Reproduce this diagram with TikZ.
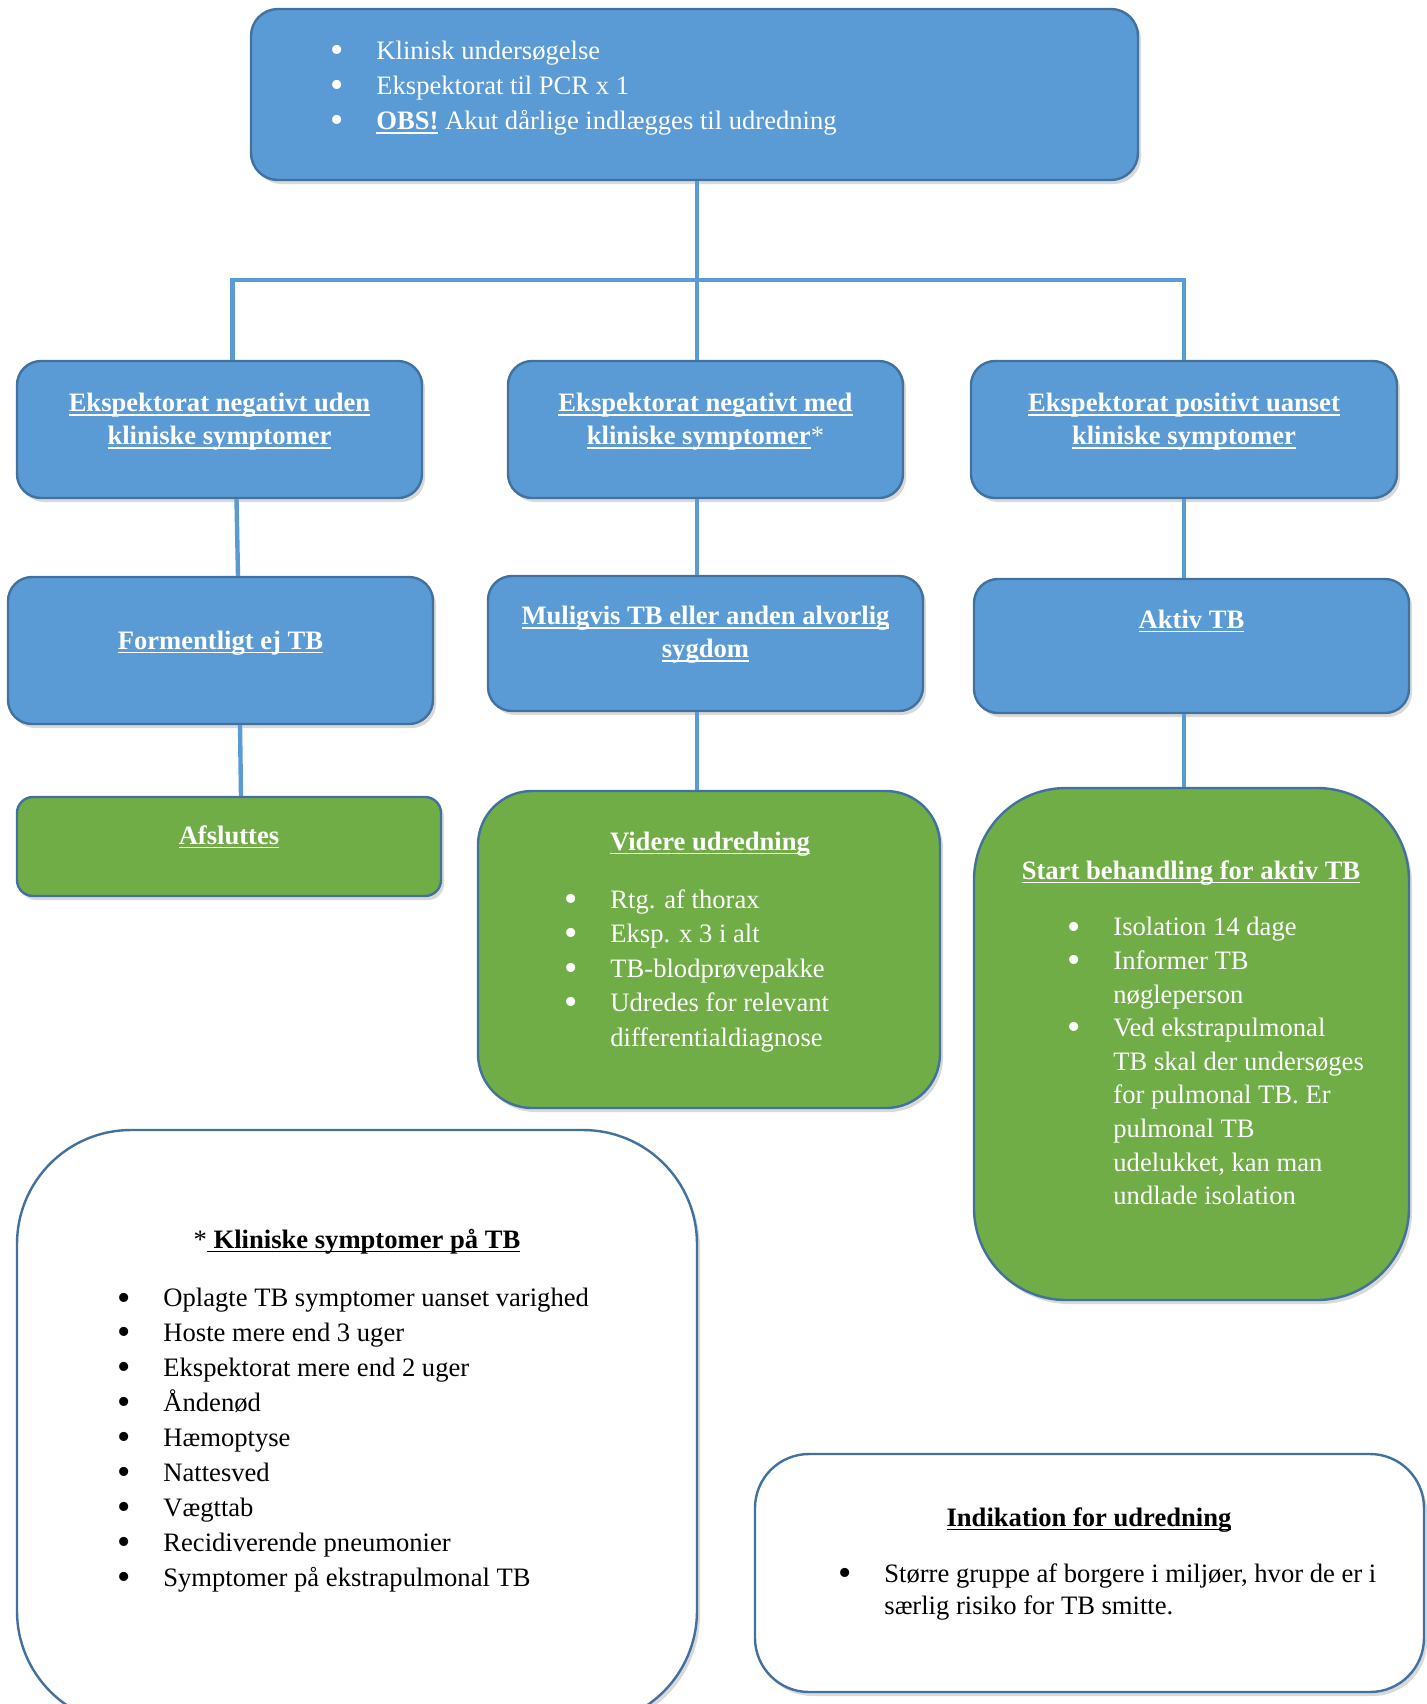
\documentclass[tikz,border=0pt]{standalone}
\usepackage{fontspec}
\setmainfont{Liberation Serif}
\usetikzlibrary{fit,shadows}
\definecolor{boxblue}{HTML}{5B9BD5}
\definecolor{edgeblue}{HTML}{41719C}
\definecolor{boxgreen}{HTML}{70AD47}
\newcommand{\uln}[1]{\leavevmode\setbox0=\hbox{#1}\rlap{\rule[-2.2pt]{\wd0}{0.9pt}}\box0\relax}
\newcommand{\bul}{\makebox[23pt][l]{\raisebox{-1.6pt}{\fontsize{19}{19}\selectfont\textbullet}}}
\newcommand{\hang}{\hspace*{23pt}}
\tikzset{
  box/.style={draw=edgeblue, line width=1.2pt, inner sep=0pt,
    drop shadow={shadow xshift=1.5pt, shadow yshift=-2pt, opacity=0.3}},
  bluebox/.style={box, fill=boxblue},
  greenbox/.style={box, fill=boxgreen},
  notebox/.style={box, fill=white},
  conn/.style={draw=boxblue, line width=2.2pt},
  txt/.style={inner sep=0pt, font=\fontsize{13.3}{17.25}\selectfont},
  head/.style={txt, align=center, text=white, font=\fontsize{13.3}{16.5}\selectfont\bfseries},
  list/.style={txt, anchor=north west, align=left},
}
\begin{document}
\begin{tikzpicture}[x=0.5pt, y=-0.5pt]
  \useasboundingbox (0,0) rectangle (1426,1704);

  \node[bluebox, rounded corners=13.5pt, fit={(251,9) (1138,180)}] (top) {};
  \node[bluebox, rounded corners=12pt, fit={(17,361) (422,498)}] (l1) {};
  \node[bluebox, rounded corners=12pt, fit={(508,361) (903,498)}] (m1) {};
  \node[bluebox, rounded corners=12pt, fit={(971,361) (1397,498)}] (r1) {};
  \node[bluebox, rounded corners=12pt, fit={(8,577) (433,724)}] (l2) {};
  \node[bluebox, rounded corners=12pt, fit={(488,576) (923,711)}] (m2) {};
  \node[bluebox, rounded corners=12pt, fit={(974,579) (1409,713)}] (r2) {};
  \node[greenbox, rounded corners=8pt, fit={(17,797) (441,896)}] (l3) {};
  \node[greenbox, rounded corners=27pt, fit={(478,791) (940,1108)}] (m3) {};
  \node[greenbox, rounded corners=46pt, fit={(974,788) (1409,1300)}] (r3) {};
  \node[notebox, rounded corners=57pt, fit={(17,1130) (697,1725)}] (sympt) {};
  \node[notebox, rounded corners=27pt, fit={(755,1454) (1424,1692)}] (indik) {};

  \coordinate (fork) at (697,280);
  \draw[conn] (fork |- top.south) -- (fork);
  \draw[conn] ([xshift=6.5pt]l1.north) |- (fork) -| (r1.north);
  \draw[conn] (fork) -- (fork |- m1.north);
  \draw[conn] ([xshift=8.5pt]l1.south) -- ([xshift=8.75pt]l2.north);
  \draw[conn] ([xshift=9.75pt]l2.south) -- ([xshift=6pt]l3.north);
  \draw[conn] (fork |- m1.south) -- (fork |- m2.north);
  \draw[conn] (fork |- m2.south) -- (fork |- m3.north);
  \draw[conn] (r1.south) -- (r1.south |- r2.north);
  \draw[conn] (r1.south |- r2.south) -- (r1.south |- r3.north);

  \node[list, text=white, font=\fontsize{13.3}{17.5}\selectfont] (toptxt) at (330,40.5)
    {\bul Klinisk undersøgelse\\ \bul Ekspektorat til PCR x 1\\
     \bul \uln{\textbf{OBS!}} Akut dårlige indlægges til udredning};
  \node[head, anchor=north] (l1txt) at (219.5,393)
    {\uln{Ekspektorat negativt uden}\\ \uln{kliniske symptomer}};
  \node[head, anchor=north] (m1txt) at (705.5,393)
    {\uln{Ekspektorat negativt med}\\ \uln{kliniske symptomer}\mdseries*};
  \node[head, anchor=north] (r1txt) at (1184,393)
    {\uln{Ekspektorat positivt uanset}\\ \uln{kliniske symptomer}};
  \node[head, anchor=base] (l2txt) at (220.5,649) {\uln{Formentligt ej TB}};
  \node[head, anchor=north] (m2txt) at (705.5,606)
    {\uln{Muligvis TB eller anden alvorlig}\\ \uln{sygdom}};
  \node[head, anchor=base] (r2txt) at (1191.5,628) {\uln{Aktiv TB}};
  \node[head, anchor=base] (l3txt) at (229,844) {\uln{Afsluttes}};

  \node[head, anchor=base] (m3head) at (710,850) {\uln{Videre udredning}};
  \node[list, text=white] (m3txt) at (564,889)
    {\bul Rtg. af thorax\\ \bul Eksp. x 3 i alt\\ \bul TB-blodprøvepakke\\
     \bul Udredes for relevant\\ \hang differentialdiagnose};

  \node[head, anchor=base] (r3head) at (1191,879) {\uln{Start behandling for aktiv TB}};
  \node[list, text=white, font=\fontsize{13.3}{16.8}\selectfont] (r3txt) at (1067,917)
    {\bul Isolation 14 dage\\ \bul Informer TB\\ \hang nøgleperson\\
     \bul Ved ekstrapulmonal\\ \hang TB skal der undersøges\\ \hang for pulmonal TB. Er\\
     \hang pulmonal TB\\ \hang udelukket, kan man\\ \hang undlade isolation};

  \node[txt, anchor=base] (symhead) at (357,1248)
    {*\uln{\textbf{\ Kliniske symptomer på TB}}};
  \node[list, font=\fontsize{13.3}{17.45}\selectfont] (symtxt) at (117,1288)
    {\bul Oplagte TB symptomer uanset varighed\\ \bul Hoste mere end 3 uger\\
     \bul Ekspektorat mere end 2 uger\\ \bul Åndenød\\ \bul Hæmoptyse\\
     \bul Nattesved\\ \bul Vægttab\\ \bul Recidiverende pneumonier\\
     \bul Symptomer på ekstrapulmonal TB};

  \node[txt, anchor=base] (indhead) at (1089,1526) {\uln{\textbf{Indikation for udredning}}};
  \node[list, font=\fontsize{13.3}{16.3}\selectfont] (indtxt) at (838,1563)
    {\bul Større gruppe af borgere i miljøer, hvor de er i\\
     \hang særlig risiko for TB smitte.};
\end{tikzpicture}
\end{document}
